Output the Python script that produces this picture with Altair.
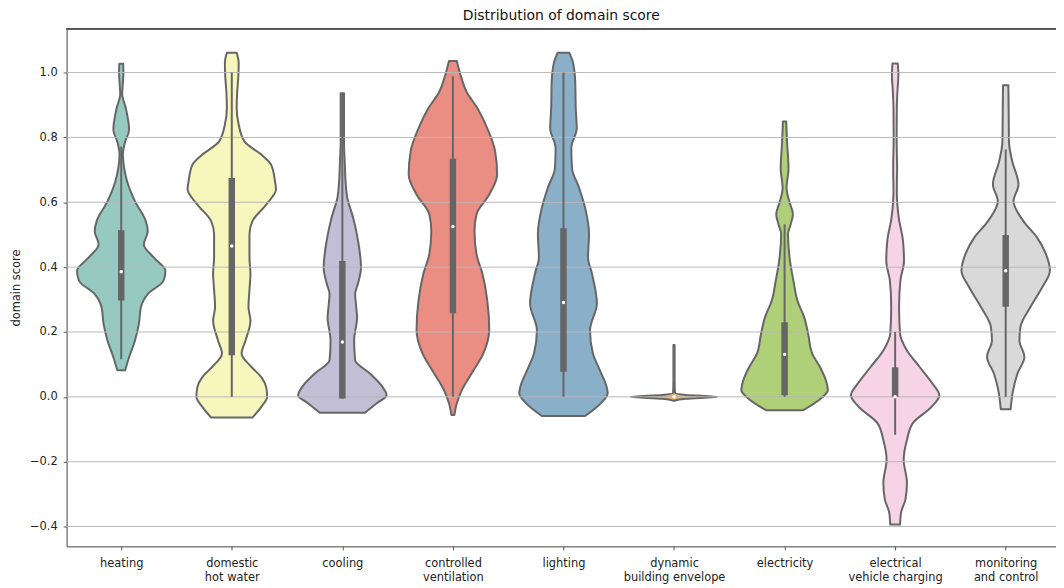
import json
import altair as alt
import pandas as pd

# ---------------- data ----------------
CATEGORIES = ["heating", "domestic hot water", "cooling", "controlled ventilation",
              "lighting", "dynamic building envelope", "electricity",
              "electrical vehicle charging", "monitoring and control"]
TICK_LABELS = [["heating"], ["domestic", "hot water"], ["cooling"],
               ["controlled", "ventilation"], ["lighting"],
               ["dynamic", "building envelope"], ["electricity"],
               ["electrical", "vehicle charging"], ["monitoring", "and control"]]
COLORS = ["#96cac1", "#f6f6bd", "#c1bed6", "#ea8e83", "#8aafc9",
          "#eab375", "#afcf78", "#f6d3e5", "#d9d9d9"]
Y_TICKS = [-0.4, -0.2, 0.0, 0.2, 0.4, 0.6, 0.8, 1.0]

# violin profiles: score values and relative density (0..45 scale)
HEATING_Y = [0.082, 0.122, 0.174, 0.226, 0.276, 0.317, 0.358, 0.389, 0.43, 0.47, 0.511,
             0.542, 0.603, 0.664, 0.705, 0.747, 0.787, 0.824, 0.89, 0.934, 0.96, 1.0, 1.027]
HEATING_W = [4, 8, 14, 18, 20, 27, 43, 45, 33, 23, 27,
             25, 14, 6, 3, 1.7, 4, 8, 4.7, 1.0, 1.5, 2.2, 2.0]

DHW_Y = [-0.064, -0.031, 0.0, 0.03, 0.061, 0.092, 0.134, 0.174, 0.235, 0.276, 0.33,
         0.38, 0.43, 0.502, 0.542, 0.593, 0.64, 0.664, 0.716, 0.747, 0.787, 0.84,
         0.89, 0.94, 0.99, 1.03, 1.061]
DHW_W = [21, 30, 36, 35, 30, 20, 10, 14, 19, 17, 18,
         19, 18, 18, 21, 35, 45, 44, 40, 30, 13, 7,
         5, 5.5, 6.7, 7, 5]

COOLING_Y = [-0.049, -0.02, 0.005, 0.03, 0.072, 0.113, 0.174, 0.245, 0.28, 0.317, 0.35,
             0.399, 0.481, 0.552, 0.614, 0.664, 0.72, 0.787, 0.85, 0.936]
COOLING_W = [23, 35, 45, 41, 28, 13, 12, 15, 14, 13, 16,
             19, 16, 11, 5, 3.3, 2.5, 1.7, 1.7, 1.7]

VENT_Y = [-0.056, -0.02, 0.02, 0.072, 0.134, 0.205, 0.297, 0.38, 0.44, 0.511, 0.563,
          0.624, 0.686, 0.757, 0.828, 0.89, 0.94, 0.99, 1.036]
VENT_W = [1.5, 4, 9, 19, 31, 37, 35, 30, 24, 22, 24,
          37, 45, 43, 35, 25, 14, 8, 4]

LIGHT_Y = [-0.059, -0.02, 0.011, 0.03, 0.082, 0.134, 0.205, 0.288, 0.38, 0.43, 0.502,
           0.583, 0.644, 0.705, 0.767, 0.828, 0.89, 0.971, 1.033, 1.061]
LIGHT_W = [22, 38, 45, 44, 37, 30, 27, 34, 29, 25, 26,
           22, 16, 8.7, 8, 13.5, 12.5, 12, 9.5, 6]

DBE_Y = [-0.012, -0.006, 0.0, 0.006, 0.012, 0.05, 0.16]
DBE_W = [0.3, 12, 44, 12, 1.0, 0.6, 0.6]

ELEC_Y = [-0.041, -0.005, 0.02, 0.051, 0.092, 0.134, 0.194, 0.245, 0.297, 0.358, 0.419,
          0.502, 0.53, 0.563, 0.6, 0.644, 0.705, 0.787, 0.849]
ELEC_W = [19, 37, 44, 42, 36, 28, 24, 20, 13, 9, 5.5,
          3.5, 6, 8.5, 5, 2, 4, 2.5, 1.7]

EV_Y = [-0.394, -0.357, -0.316, -0.265, -0.194, -0.133, -0.081, -0.031, 0.005, 0.041,
        0.092, 0.143, 0.194, 0.276, 0.358, 0.419, 0.481, 0.552, 0.634, 0.705, 0.8,
        0.89, 0.95, 0.99, 1.028]
EV_W = [5, 6, 10.5, 12, 8.7, 12, 18, 37, 45, 38,
        25, 12, 5, 4, 5.3, 9, 8, 3.7, 1.7, 2, 1.5,
        1.7, 2.5, 3.3, 2.7]

MON_Y = [-0.038, 0.02, 0.072, 0.123, 0.174, 0.215, 0.276, 0.337, 0.389, 0.44, 0.491,
         0.542, 0.603, 0.655, 0.726, 0.787, 0.89, 0.961]
MON_W = [5, 7.5, 12, 19, 14, 15, 25, 37, 45, 41, 32,
         18, 8, 13, 6.7, 3.3, 3, 2.7]

DENSITY_MAX = 45.0

# inner box statistics
Q1 = [0.297, 0.128, -0.005, 0.258, 0.077, 0.0, 0.005, 0.0, 0.278]
MEDIAN = [0.386, 0.465, 0.169, 0.525, 0.291, 0.0, 0.131, 0.0, 0.389]
Q3 = [0.514, 0.675, 0.419, 0.734, 0.52, 0.0, 0.23, 0.091, 0.499]
WHISK_LO = [0.116, 0.0, -0.005, 0.0, 0.0, 0.0, 0.0, -0.117, 0.0]
WHISK_HI = [0.772, 1.0, 0.936, 0.989, 1.0, 0.0, 0.532, 0.2, 0.763]

# ---------------- build tables ----------------
profiles = [(HEATING_Y, HEATING_W), (DHW_Y, DHW_W), (COOLING_Y, COOLING_W),
            (VENT_Y, VENT_W), (LIGHT_Y, LIGHT_W), (DBE_Y, DBE_W),
            (ELEC_Y, ELEC_W), (EV_Y, EV_W), (MON_Y, MON_W)]
rows = []
for i, (ys, ws) in enumerate(profiles):
    for y, w in zip(ys, ws):
        rows.append({"cat": CATEGORIES[i], "idx": i, "y": y, "w": w / DENSITY_MAX})
vdf = pd.DataFrame(rows)

bdf = pd.DataFrame({"cat": CATEGORIES, "idx": list(range(len(CATEGORIES))),
                    "q1": Q1, "med": MEDIAN, "q3": Q3, "lo": WHISK_LO, "hi": WHISK_HI})
gdf = pd.DataFrame({"t": Y_TICKS})

W, H = 996, 521
FONT = "DejaVu Sans"
GRAY = "#666666"

xscale = alt.Scale(domain=[-0.494, 8.455], nice=False, zero=False)
yscale = alt.Scale(domain=[-0.461, 1.135], nice=False, zero=False)

label_expr = json.dumps(TICK_LABELS) + "[datum.value]"
xaxis = alt.Axis(values=list(range(9)), labelExpr=label_expr, title=None, grid=False,
                 tickSize=3.5, labelPadding=8, labelLineHeight=14, labelFontSize=11.5,
                 labelFont=FONT, labelColor="#222", domainColor="#555", tickColor="#555",
                 labelAngle=0, labelBaseline="top", labelFlush=False)
yaxis = alt.Axis(values=Y_TICKS, format=".1f", title="domain score", grid=False,
                 tickSize=3.5, labelPadding=6, labelFontSize=11.5, labelFont=FONT,
                 labelColor="#222", titleFont=FONT, titleFontSize=11.5,
                 titleFontWeight="normal", titleColor="#222", titlePadding=8,
                 domainColor="#555", tickColor="#555")

violins = alt.Chart(vdf).transform_calculate(
    vlo="datum.idx - 0.4*datum.w", vhi="datum.idx + 0.4*datum.w"
).mark_area(orient="horizontal", interpolate="monotone", stroke=GRAY,
            strokeWidth=2, opacity=1, fillOpacity=1, strokeJoin="round").encode(
    y=alt.Y("y:Q", scale=yscale, axis=yaxis),
    x=alt.X("vlo:Q", scale=xscale, axis=xaxis, stack=False),
    x2="vhi:Q",
    color=alt.Color("cat:N", scale=alt.Scale(domain=CATEGORIES, range=COLORS), legend=None),
)

grid = alt.Chart(gdf).mark_rule(color="#b8b8b8", strokeWidth=1).encode(
    y=alt.Y("t:Q", scale=yscale, axis=yaxis)
)

whisk = alt.Chart(bdf).mark_rule(color=GRAY, strokeWidth=2).encode(
    x=alt.X("idx:Q", scale=xscale, axis=xaxis),
    y=alt.Y("lo:Q", scale=yscale, axis=yaxis), y2="hi:Q")

box = alt.Chart(bdf).mark_rule(color=GRAY, strokeWidth=6.5, strokeCap="butt").encode(
    x=alt.X("idx:Q", scale=xscale, axis=xaxis),
    y=alt.Y("q1:Q", scale=yscale, axis=yaxis), y2="q3:Q")

med = alt.Chart(bdf).mark_circle(color="white", size=12, opacity=1).encode(
    x=alt.X("idx:Q", scale=xscale, axis=xaxis),
    y=alt.Y("med:Q", scale=yscale, axis=yaxis))

top = alt.Chart(gdf).mark_rule(color="#555", strokeWidth=1).encode(
    y=alt.value(0), x=alt.value(0), x2=alt.value(W))

chart = alt.layer(violins, grid, whisk, box, med, top).properties(
    width=W, height=H,
    title=alt.TitleParams("Distribution of domain score", font=FONT, fontSize=14,
                          fontWeight="normal", color="#111", offset=5),
    autosize=alt.AutoSizeParams(type="none"),
    padding={"left": 59, "top": 19, "right": 0, "bottom": 36},
).configure_view(stroke=None).configure(background="white")

chart.save("out.html", embed_options={"renderer": "svg", "actions": False})
